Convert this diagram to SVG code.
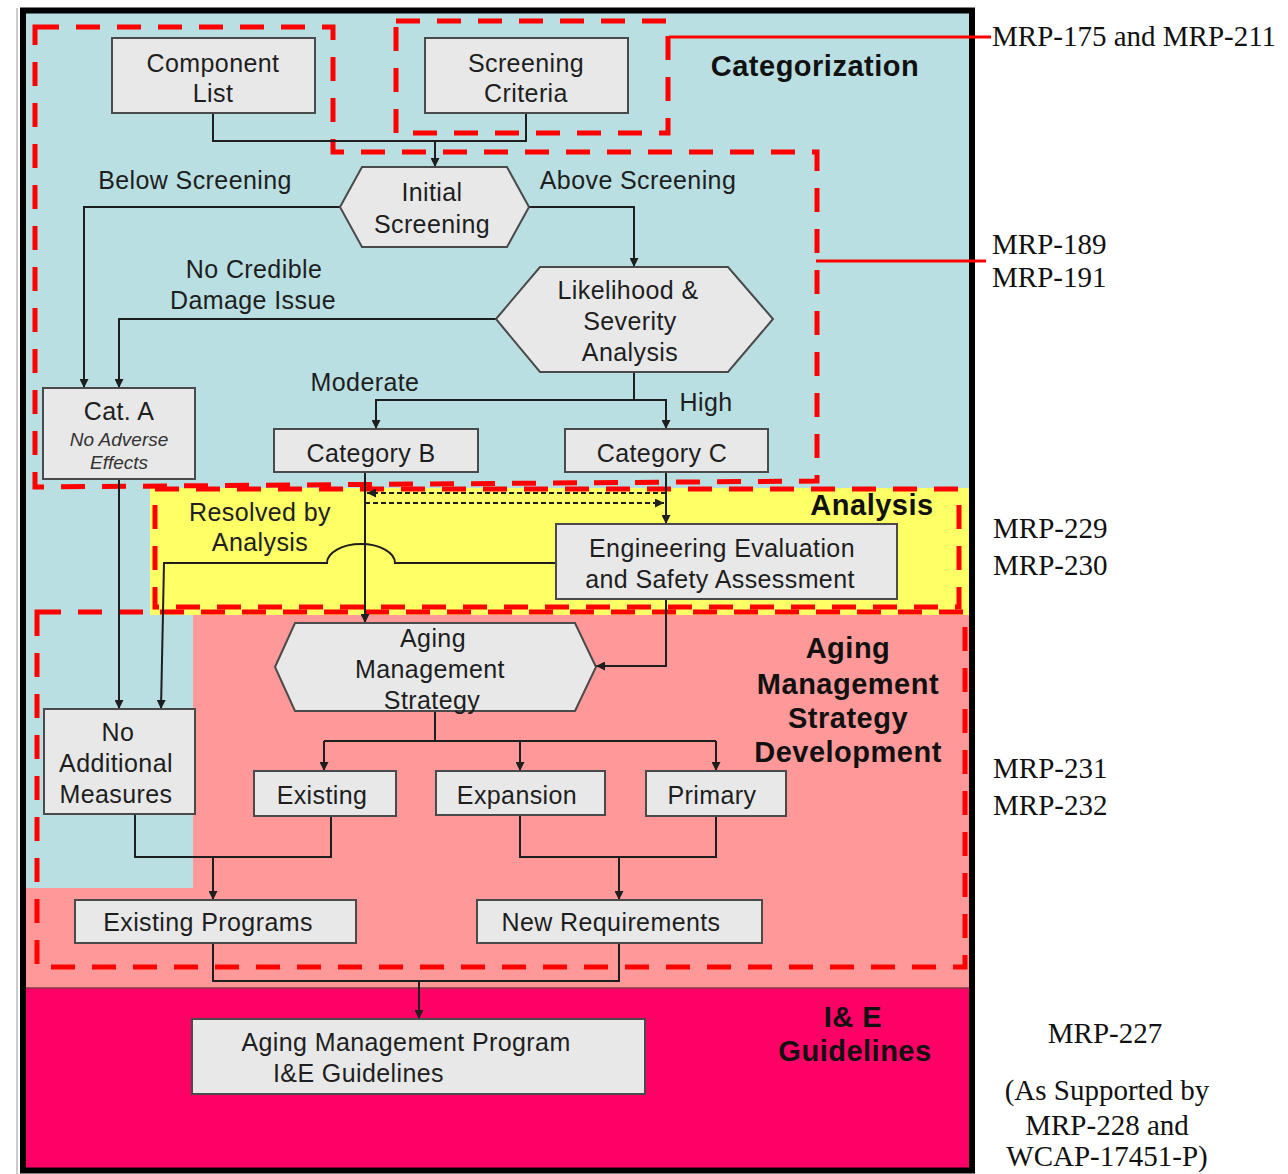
<svg xmlns="http://www.w3.org/2000/svg" width="1288" height="1174" viewBox="0 0 1288 1174">
<style>
.bg{stroke:none}
.node{fill:#E8E8E8;stroke:#4a4a4a;stroke-width:2}
.t{font-family:"Liberation Sans",Arial,sans-serif;font-size:25px;fill:#1e1e1e;text-anchor:middle;letter-spacing:0.4px}
.ti{font-family:"Liberation Sans",Arial,sans-serif;font-size:19px;font-style:italic;fill:#333;text-anchor:middle}
.h{font-family:"Liberation Sans",Arial,sans-serif;font-size:29px;font-weight:bold;fill:#111;text-anchor:middle;letter-spacing:0.5px}
.r{font-family:"Liberation Serif","Times New Roman",serif;font-size:29px;fill:#111}
.rc{font-family:"Liberation Serif","Times New Roman",serif;font-size:29px;fill:#111;text-anchor:middle}
.dash{fill:none;stroke:#FF0000;stroke-width:5;stroke-dasharray:24 17}
.ref{stroke:#FF0000;stroke-width:3;fill:none}
.c{fill:none;stroke:#1e1e1e;stroke-width:2}
.ca{fill:none;stroke:#1e1e1e;stroke-width:2;marker-end:url(#arr)}
.cd{fill:none;stroke:#1e1e1e;stroke-width:2;stroke-dasharray:5 3;marker-end:url(#arr)}
</style>
<defs>
<marker id="arr" viewBox="0 0 10 10" refX="10" refY="5" markerWidth="9" markerHeight="9" markerUnits="userSpaceOnUse" orient="auto">
<path d="M0,0 L10,5 L0,10 z" fill="#1e1e1e"/>
</marker>
</defs>
<rect x="0" y="0" width="1288" height="1174" fill="#FFFFFF"/>
<g id="backgrounds">
<rect class="bg" x="26" y="13" width="943" height="975" fill="#B9DFE2"/>
<polygon class="bg" points="193,615 969,615 969,988 26,988 26,888 193,888" fill="#FF9999"/>
<rect class="bg" x="150" y="488" width="819" height="127" fill="#FFFF66"/>
<rect class="bg" x="26" y="988" width="943" height="182" fill="#FF0066"/>
<line x1="26" y1="988" x2="969" y2="988" stroke="#8a3a4a" stroke-width="1.5"/>
<line x1="17" y1="8" x2="17" y2="1174" stroke="#999" stroke-width="1"/>
<rect x="23" y="10.5" width="949" height="1160" fill="none" stroke="#000" stroke-width="6"/>
</g>
<g id="regions">
<path class="dash" d="M35,27 H333 V152 H817 V481 L35,487 Z"/>
<rect class="dash" x="396" y="21" width="272" height="112"/>
<rect class="dash" x="155" y="489" width="804" height="118"/>
<rect class="dash" x="37" y="612" width="928" height="355"/>
<line class="ref" x1="669" y1="37" x2="991" y2="37"/>
<line class="ref" x1="816" y1="261" x2="986" y2="261"/>
</g>
<g id="region-titles">
<text class="h" x="815" y="76">Categorization</text>
<text class="h" x="872" y="515">Analysis</text>
<text class="h" x="848" y="658">Aging</text>
<text class="h" x="848" y="694">Management</text>
<text class="h" x="848" y="728">Strategy</text>
<text class="h" x="848" y="762">Development</text>
<text class="h" x="853" y="1027">I&amp; E</text>
<text class="h" x="855" y="1061">Guidelines</text>
</g>
<g id="references">
<text class="r" x="992" y="46">MRP-175 and MRP-211</text>
<text class="r" x="992" y="254">MRP-189</text>
<text class="r" x="992" y="287">MRP-191</text>
<text class="r" x="993" y="538">MRP-229</text>
<text class="r" x="993" y="575">MRP-230</text>
<text class="r" x="993" y="778">MRP-231</text>
<text class="r" x="993" y="815">MRP-232</text>
<text class="rc" x="1105" y="1043">MRP-227</text>
<text class="rc" x="1107" y="1100">(As Supported by</text>
<text class="rc" x="1107" y="1135">MRP-228 and</text>
<text class="rc" x="1107" y="1166">WCAP-17451-P)</text>
</g>
<g id="connectors">
<path class="c" d="M213,113 V141 H526 V113"/>
<path class="ca" d="M435,141 V167"/>
<path class="ca" d="M340,207 H84 V388"/>
<path class="ca" d="M529,207 H634 V267"/>
<path class="ca" d="M496,319 H119 V388"/>
<path class="ca" d="M634,372 V400 H376 V429"/>
<path class="ca" d="M634,400 H666 V429"/>
<path class="ca" d="M119,479 V709"/>
<path class="ca" d="M365,472 V623"/>
<path class="ca" d="M666,472 V524"/>
<path class="cd" d="M666,493 H367"/>
<path class="cd" d="M365,503 H664"/>
<path class="ca" d="M556,563 H395 A34,19 0 0 0 327,563 H164 L161,709"/>
<path class="ca" d="M666,599 V666 H596"/>
<path class="c" d="M435,711 V741 M324,741 H716"/>
<path class="ca" d="M324,741 V771"/>
<path class="ca" d="M520,741 V771"/>
<path class="ca" d="M716,741 V771"/>
<path class="c" d="M135,814 V857 H331 V816"/>
<path class="ca" d="M213,857 V900"/>
<path class="c" d="M520,815 V857 H716 V816"/>
<path class="ca" d="M619,857 V900"/>
<path class="c" d="M213,943 V981 H619 V943"/>
<path class="ca" d="M419,981 V1019"/>
</g>
<g id="edge-labels">
<text class="t" x="195" y="189">Below Screening</text>
<text class="t" x="638" y="189">Above Screening</text>
<text class="t" x="254" y="278">No Credible</text>
<text class="t" x="253" y="309">Damage Issue</text>
<text class="t" x="365" y="391">Moderate</text>
<text class="t" x="706" y="411">High</text>
<text class="t" x="260" y="521">Resolved by</text>
<text class="t" x="260" y="551">Analysis</text>
</g>
<g id="component-list">
<rect class="node" x="112" y="38" width="203" height="75"/>
<text class="t" x="213" y="72">Component</text>
<text class="t" x="213" y="102">List</text>
</g>
<g id="screening-criteria">
<rect class="node" x="425" y="38" width="203" height="75"/>
<text class="t" x="526" y="72">Screening</text>
<text class="t" x="526" y="102">Criteria</text>
</g>
<g id="initial-screening">
<polygon class="node" points="340,207 362,167 507,167 529,207 507,247 362,247"/>
<text class="t" x="432" y="201">Initial</text>
<text class="t" x="432" y="233">Screening</text>
</g>
<g id="likelihood">
<polygon class="node" points="496,319 540,267 728,267 773,319 728,372 540,372"/>
<text class="t" x="628" y="299">Likelihood &amp;</text>
<text class="t" x="630" y="330">Severity</text>
<text class="t" x="630" y="361">Analysis</text>
</g>
<g id="cat-a">
<rect class="node" x="43" y="388" width="152" height="91"/>
<text class="t" x="119" y="420">Cat. A</text>
<text class="ti" x="119" y="446">No Adverse</text>
<text class="ti" x="119" y="469">Effects</text>
</g>
<g id="category-b">
<rect class="node" x="274" y="429" width="204" height="43"/>
<text class="t" x="371" y="462">Category B</text>
</g>
<g id="category-c">
<rect class="node" x="565" y="429" width="203" height="43"/>
<text class="t" x="662" y="462">Category C</text>
</g>
<g id="engineering-evaluation">
<rect class="node" x="556" y="524" width="341" height="75"/>
<text class="t" x="722" y="557">Engineering Evaluation</text>
<text class="t" x="720" y="588">and Safety Assessment</text>
</g>
<g id="aging-management-strategy">
<polygon class="node" points="275,667 295,623 575,623 596,667 575,711 295,711"/>
<text class="t" x="433" y="647">Aging</text>
<text class="t" x="430" y="678">Management</text>
<text class="t" x="432" y="709">Strategy</text>
</g>
<g id="no-additional-measures">
<rect class="node" x="44" y="709" width="151" height="105"/>
<text class="t" x="118" y="741">No</text>
<text class="t" x="116" y="772">Additional</text>
<text class="t" x="116" y="803">Measures</text>
</g>
<g id="existing">
<rect class="node" x="254" y="771" width="142" height="45"/>
<text class="t" x="322" y="804">Existing</text>
</g>
<g id="expansion">
<rect class="node" x="436" y="771" width="169" height="44"/>
<text class="t" x="517" y="804">Expansion</text>
</g>
<g id="primary">
<rect class="node" x="646" y="771" width="140" height="45"/>
<text class="t" x="712" y="804">Primary</text>
</g>
<g id="existing-programs">
<rect class="node" x="75" y="900" width="281" height="43"/>
<text class="t" x="208" y="931">Existing Programs</text>
</g>
<g id="new-requirements">
<rect class="node" x="477" y="900" width="285" height="43"/>
<text class="t" x="611" y="931">New Requirements</text>
</g>
<g id="amp-guidelines">
<rect class="node" x="192" y="1019" width="453" height="75"/>
<text class="t" x="406" y="1051">Aging Management Program</text>
<text class="t" x="273" y="1082" style="text-anchor:start">I&amp;E Guidelines</text>
</g>
</svg>
